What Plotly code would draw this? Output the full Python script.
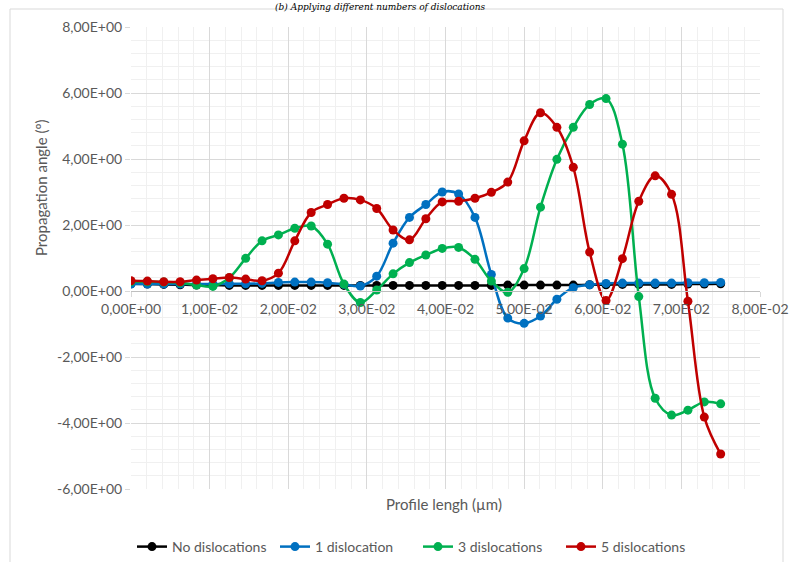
import plotly.graph_objects as go

# ---------------- data ----------------
profile_length = [0, 0.002083, 0.004167, 0.00625, 0.008333, 0.010417, 0.0125, 0.014583,
                  0.016667, 0.01875, 0.020833, 0.022917, 0.025, 0.027083, 0.029167, 0.03125,
                  0.033333, 0.035417, 0.0375, 0.039583, 0.041667, 0.04375, 0.045833, 0.047917,
                  0.05, 0.052083, 0.054167, 0.05625, 0.058333, 0.060417, 0.0625, 0.064583,
                  0.066667, 0.06875, 0.070833, 0.072917, 0.075]

no_disl = [0.22, 0.21, 0.2, 0.19, 0.18, 0.18, 0.17, 0.17, 0.17, 0.17, 0.17, 0.17, 0.17,
           0.17, 0.17, 0.17, 0.17, 0.17, 0.17, 0.17, 0.17, 0.17, 0.17, 0.18, 0.18, 0.18,
           0.18, 0.18, 0.19, 0.19, 0.2, 0.2, 0.2, 0.2, 0.21, 0.21, 0.22]

one_disl = [0.21, 0.21, 0.21, 0.21, 0.21, 0.21, 0.22, 0.22, 0.23, 0.26, 0.27, 0.27, 0.25,
            0.2, 0.15, 0.45, 1.45, 2.23, 2.62, 3.0, 2.94, 2.23, 0.5, -0.82, -0.98, -0.76,
            -0.25, 0.1, 0.19, 0.23, 0.24, 0.24, 0.24, 0.24, 0.25, 0.25, 0.26]

three_disl = [0.28, 0.28, 0.27, 0.25, 0.18, 0.14, 0.4, 0.99, 1.52, 1.7, 1.9, 1.97, 1.42,
              0.21, -0.35, 0.03, 0.52, 0.86, 1.09, 1.29, 1.32, 0.96, 0.3, -0.04, 0.68,
              2.54, 3.99, 4.96, 5.65, 5.83, 4.45, -0.17, -3.25, -3.76, -3.61, -3.36, -3.42]

five_disl = [0.31, 0.3, 0.28, 0.28, 0.33, 0.37, 0.41, 0.36, 0.31, 0.54, 1.52, 2.38, 2.62,
             2.81, 2.76, 2.5, 1.85, 1.55, 2.19, 2.7, 2.72, 2.81, 2.99, 3.3, 4.55, 5.4, 4.96,
             3.75, 1.18, -0.29, 0.98, 2.72, 3.49, 2.93, -0.31, -3.82, -4.94]

series_names = ["No dislocations", "1 dislocation", "3 dislocations", "5 dislocations"]
series_colors = ["#000000", "#0070C0", "#00B050", "#C00000"]

x_tick_vals = [0, 0.01, 0.02, 0.03, 0.04, 0.05, 0.06, 0.07, 0.08]
x_tick_text = ["0,00E+00", "1,00E-02", "2,00E-02", "3,00E-02", "4,00E-02",
               "5,00E-02", "6,00E-02", "7,00E-02", "8,00E-02"]
y_tick_vals = [-6, -4, -2, 0, 2, 4, 6, 8]
y_tick_text = ["-6,00E+00", "-4,00E+00", "-2,00E+00", "0,00E+00",
               "2,00E+00", "4,00E+00", "6,00E+00", "8,00E+00"]

# ---------------- figure ----------------
FONT = "Lato, 'Open Sans', sans-serif"
TXT = "#595959"

fig = go.Figure()
for name, ys, col in zip(series_names, [no_disl, one_disl, three_disl, five_disl], series_colors):
    fig.add_trace(go.Scatter(
        x=profile_length, y=ys, name=name, mode="lines+markers",
        line=dict(color=col, width=2.5, shape="spline", smoothing=1.0),
        marker=dict(color=col, size=9),
    ))

# plot area geometry
L, R, T, B = 131, 32, 27, 73
W, H = 792, 562
pw = W - L - R
ph = H - T - B
zero_pos = 6 / 14.0  # paper position of y=0

def px_x(p):
    return (p - L) / pw

def px_y(p):
    return (H - B - p) / ph

fig.update_layout(
    width=W, height=H,
    margin=dict(l=L, r=R, t=T, b=B, autoexpand=False),
    paper_bgcolor="white", plot_bgcolor="white",
    font=dict(family=FONT, size=14, color=TXT),
    showlegend=True,
    legend=dict(orientation="h", x=px_x(132), xanchor="left",
                y=px_y(547), yanchor="middle",
                font=dict(size=14, color=TXT), itemwidth=30,
                entrywidth=98, entrywidthmode="pixels",
                bgcolor="rgba(0,0,0,0)"),
    xaxis=dict(range=[0, 0.08], tickvals=x_tick_vals, ticktext=x_tick_text,
               anchor="free", position=zero_pos, automargin=False,
               showline=True, linecolor="#bfbfbf", linewidth=1,
               ticks="outside", ticklen=5, tickcolor="#d9d9d9",
               showgrid=True, gridcolor="#d9d9d9", gridwidth=1, zeroline=False,
               tickfont=dict(size=14, color=TXT),
               minor=dict(dtick=0.002, showgrid=True, gridcolor="#f0f0f0", gridwidth=1),
               fixedrange=True),
    yaxis=dict(range=[-6, 8], tickvals=y_tick_vals, ticktext=y_tick_text,
               automargin=False,
               showline=False, ticks="outside", ticklen=5, tickcolor="#d9d9d9",
               showgrid=True, gridcolor="#d9d9d9", gridwidth=1, zeroline=False,
               tickfont=dict(size=14, color=TXT),
               minor=dict(dtick=0.4, showgrid=True, gridcolor="#f0f0f0", gridwidth=1),
               fixedrange=True),
)

# axis titles
fig.add_annotation(text="Profile lengh (µm)", xref="paper", yref="paper",
                   x=px_x(444), y=px_y(504),
                   xanchor="center", yanchor="middle", showarrow=False,
                   font=dict(size=15, color=TXT, family=FONT))
fig.add_annotation(text="Propagation angle (º)", xref="paper", yref="paper",
                   x=px_x(41), y=px_y(188), textangle=-90,
                   xanchor="center", yanchor="middle", showarrow=False,
                   font=dict(size=15, color=TXT, family=FONT))

# caption at top
fig.add_annotation(text="<i>(b) Applying different numbers of dislocations</i>",
                   xref="paper", yref="paper",
                   x=px_x(380), y=px_y(0),
                   xanchor="center", yanchor="top", showarrow=False,
                   font=dict(size=9, color="#000000", family="'DejaVu Serif', serif"))

# chart area border
fig.add_shape(type="rect", xref="paper", yref="paper",
              x0=px_x(10), x1=px_x(783),
              y0=px_y(620), y1=px_y(9),
              line=dict(color="#d9d9d9", width=1), layer="below")

fig.write_html("out.html", config={"displayModeBar": False},
               post_script="document.body.style.margin='0';document.body.style.overflow='hidden';")
